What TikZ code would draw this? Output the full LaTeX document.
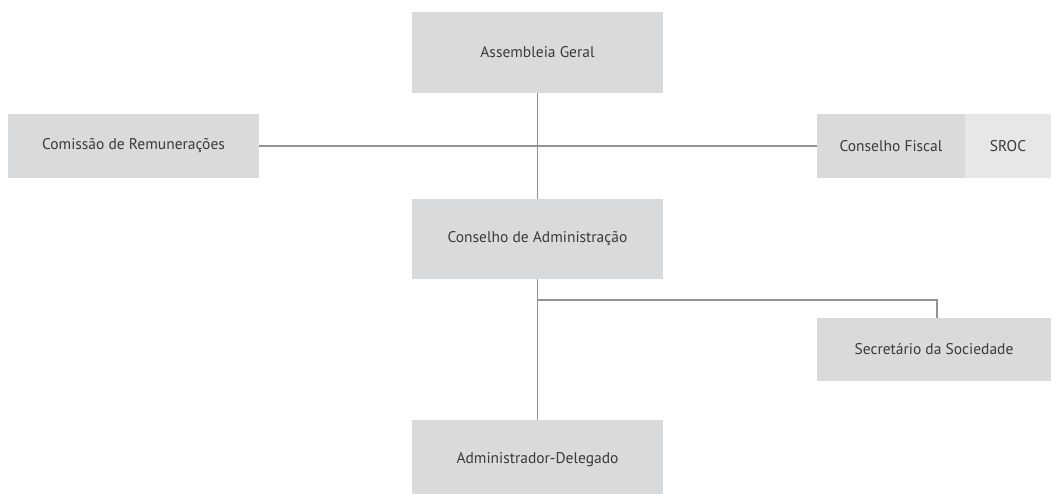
\documentclass[tikz,border=0pt]{standalone}
\usepackage{fontspec}
\setmainfont{PT Sans}
\usepackage{tikz}
\definecolor{boxgray}{HTML}{D9DADC}
\definecolor{lightgray}{HTML}{E6E7E9}
\definecolor{linegray}{HTML}{939393}
\definecolor{textgray}{HTML}{3A3A3A}
\tikzset{
	orgbox/.style={fill=boxgray, inner sep=0pt, text=textgray, font=\fontsize{15.5}{18}\selectfont},
	link/.style={draw=linegray, line width=1.5pt}
}

\begin{document}
\begin{tikzpicture}[x=1pt, y=-1pt]
			\useasboundingbox (0,0) rectangle (1054,494);
			\node[orgbox, minimum width=251pt, minimum height=81pt] (ag)	at	(537.5, 52.5)	{Assembleia Geral};
			\node[orgbox, minimum width=251pt, minimum height=64pt] (com)	at	(133.5, 146)	{Comissão de Remunerações};
			\node[orgbox, minimum width=148pt, minimum height=64pt] (cf)	at	(891, 146)	{Conselho Fiscal};
			\node[orgbox, fill=lightgray, minimum width=86pt, minimum height=64pt] (sroc)	at	(1008, 146)	{SROC};
			%
			\node[orgbox, minimum width=251pt, minimum height=80pt] (ca)	at	(537.5, 239)	{Conselho de Administração};
			\node[orgbox, minimum width=234pt, minimum height=63pt] (sec)	at	(934, 349.5)	{Secretário da Sociedade};
			\node[orgbox, minimum width=251pt, minimum height=80pt] (ad)	at	(537.5, 460)	{Administrador-Delegado};
			%
			\coordinate (split) at (537.5, 300);
			\draw[link]	(ag) -- (ca);
			\draw[link]	(com) -- (cf);
			\draw[link]	(ca) -- (ad);
			\draw[link]	(split) -| ([xshift=3pt]sec.north);
		\end{tikzpicture}
\end{document}
